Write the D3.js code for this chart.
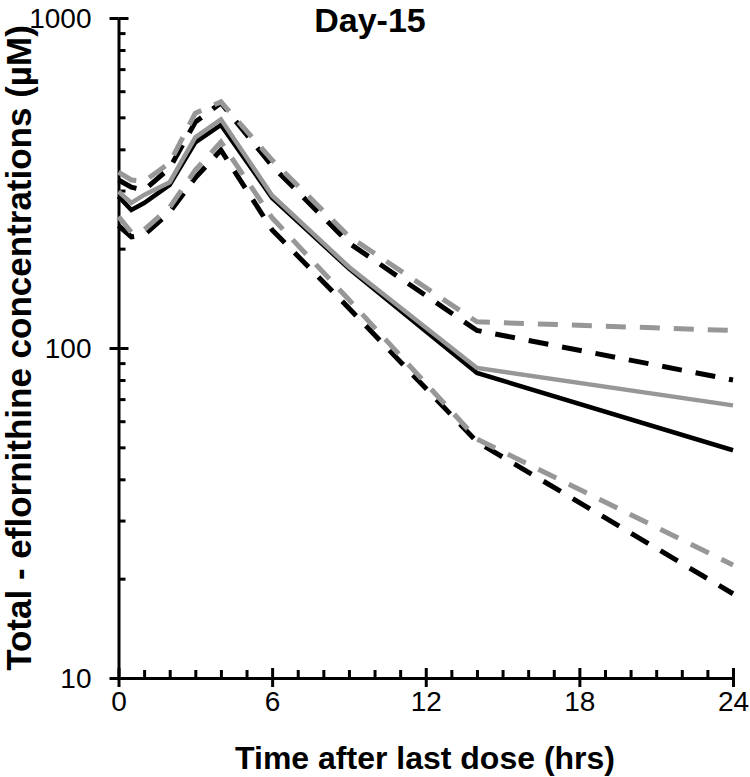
<!DOCTYPE html>
<html>
<head>
<meta charset="utf-8">
<script src="https://cdn.jsdelivr.net/npm/d3@7"></script>
<style>
  html, body { margin: 0; padding: 0; background: #fff; }
  svg { display: block; }
  text { font-family: "Liberation Sans", Arial, sans-serif; }
</style>
</head>
<body>
<svg id="chart" width="750" height="777"></svg>
<script>
// ---- data ----
const times = [0, 0.5, 1, 2, 3, 4, 6, 9, 14, 24];
const blackMedian = [288, 262, 275, 312, 420, 474, 285, 174, 84, 49];
const grayMedian  = [298, 275, 291, 318, 435, 493, 290, 176, 87, 67];
const blackUpper  = [323, 307, 301, 351, 484, 553, 356, 208, 113, 80];
const grayUpper   = [341, 323, 320, 364, 515, 557, 371, 218, 120, 113];
const blackLower  = [235, 217, 220, 258, 328, 398, 228, 132, 52, 18];
const grayLower   = [250, 224, 228, 267, 346, 421, 248, 140, 53, 22];
const xTicks = [0, 6, 12, 18, 24];
const yTicks = [10, 100, 1000];
const title = "Day-15";
const xTitle = "Time after last dose (hrs)";
const yTitle = "Total - eflornithine concentrations (\u00b5M)";

const series = [
  { values: blackUpper, color: "#000", dash: "20,14" },
  { values: blackLower, color: "#000", dash: "20,14" },
  { values: blackMedian, color: "#000", dash: null },
  { values: grayUpper, color: "#979797", dash: "20,14" },
  { values: grayLower, color: "#979797", dash: "20,14" },
  { values: grayMedian, color: "#979797", dash: null }
];

// ---- layout ----
const svg = d3.select("#chart");
const x = d3.scaleLinear().domain([0, 24]).range([118.5, 733]);
const y = d3.scaleLog().domain([10, 1000]).range([678, 18]);

const minorY = [];
[10, 100].forEach(d => { for (let k = 2; k <= 9; k++) minorY.push(d * k); });
const minorX = d3.range(0, 25).filter(d => d % 6 !== 0);

function styleAxis(g) {
  g.selectAll(".domain").attr("stroke", "#000").attr("stroke-width", 3);
  g.selectAll(".tick line").attr("stroke", "#000").attr("stroke-width", 3);
}

// y axis: minor ticks inward, major ticks crossing, labels
svg.append("g").attr("transform", `translate(${x(0)},0)`)
  .call(d3.axisLeft(y).tickValues(minorY).tickSize(-7).tickFormat(""))
  .call(styleAxis).call(g => g.select(".domain").remove());
svg.append("g").attr("transform", `translate(${x(0)},0)`)
  .call(d3.axisLeft(y).tickValues(yTicks).tickSize(-10).tickFormat(""))
  .call(styleAxis).call(g => g.select(".domain").remove());
svg.append("g").attr("transform", `translate(${x(0)},0)`)
  .call(d3.axisLeft(y).tickValues(yTicks).tickSize(9).tickSizeOuter(0).tickPadding(18).tickFormat(d3.format("d")))
  .call(styleAxis)
  .call(g => g.selectAll("text").attr("font-size", 28).attr("fill", "#000")
    .attr("dy", "0.35em")
    .style("font-family", "'Liberation Sans', Arial, sans-serif"));

// x axis: minor ticks inward, major ticks crossing, labels
svg.append("g").attr("transform", `translate(0,${y(10)})`)
  .call(d3.axisBottom(x).tickValues(minorX).tickSize(-8).tickFormat(""))
  .call(styleAxis).call(g => g.select(".domain").remove());
svg.append("g").attr("transform", `translate(0,${y(10)})`)
  .call(d3.axisBottom(x).tickValues(xTicks).tickSize(-10).tickFormat(""))
  .call(styleAxis).call(g => g.select(".domain").remove());
svg.append("g").attr("transform", `translate(0,${y(10)})`)
  .call(d3.axisBottom(x).tickValues(xTicks).tickSize(9).tickSizeOuter(0).tickPadding(4))
  .call(styleAxis)
  .call(g => g.selectAll("text").attr("font-size", 28).attr("fill", "#000")
    .style("font-family", "'Liberation Sans', Arial, sans-serif"));

// lines
const line = d3.line().x((d, i) => x(times[i])).y(d => y(d));
svg.append("g").selectAll("path").data(series).join("path")
  .attr("d", s => line(s.values))
  .attr("fill", "none")
  .attr("stroke", s => s.color)
  .attr("stroke-width", s => s.dash ? 5 : 4.5)
  .attr("stroke-dasharray", s => s.dash)
  .attr("stroke-linejoin", "miter");

// titles
svg.append("text").attr("x", 370).attr("y", 32).attr("text-anchor", "middle")
  .attr("font-size", 34).attr("font-weight", "bold").text(title);
svg.append("text").attr("x", 425).attr("y", 769).attr("text-anchor", "middle")
  .attr("font-size", 32).attr("font-weight", "bold").text(xTitle);
svg.append("text").attr("transform", "translate(31,348) rotate(-90)").attr("text-anchor", "middle")
  .attr("font-size", 35).attr("font-weight", "bold").text(yTitle);
</script>
</body>
</html>
